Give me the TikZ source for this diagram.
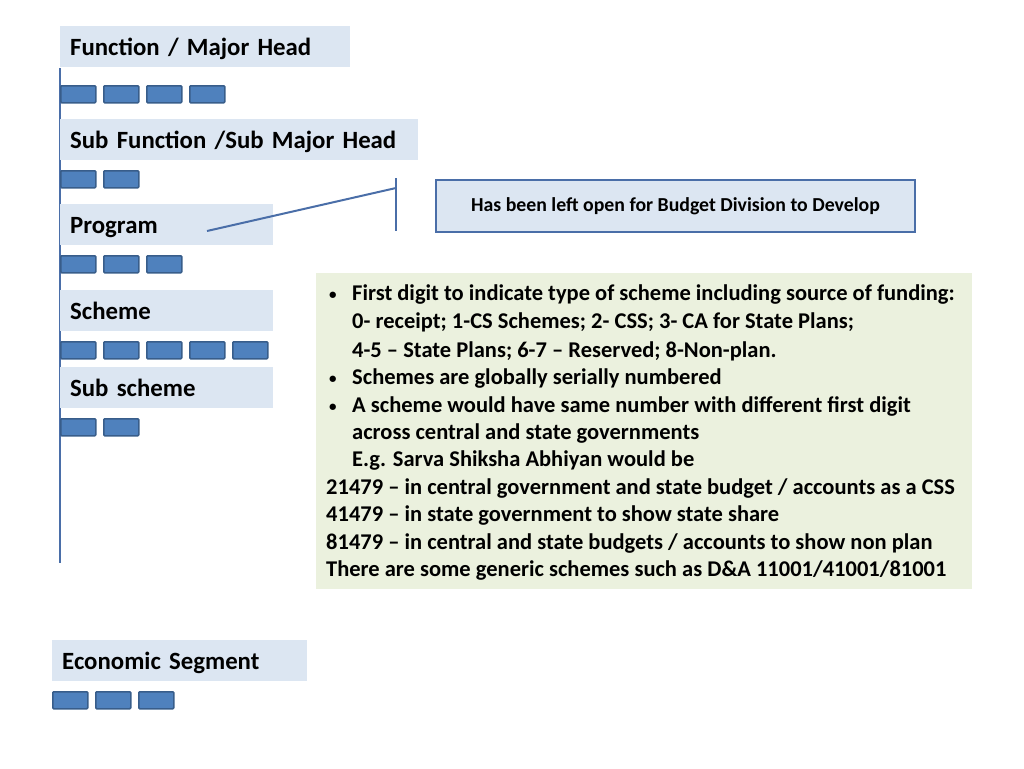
\documentclass[tikz,border=0pt]{standalone}
\usepackage{fontspec}
\setmainfont{Carlito}
\definecolor{hdrfill}{HTML}{DCE6F2}
\definecolor{digitfill}{HTML}{4F81BD}
\definecolor{digitedge}{HTML}{385D8A}
\definecolor{linkblue}{HTML}{4A6EA8}
\definecolor{notefill}{HTML}{EBF1DE}
\newcommand{\bul}{\hspace*{3pt}\makebox[23pt][l]{\raisebox{1pt}{\fontsize{15}{15}\selectfont\textbullet}}}
\newcommand{\ind}{\hspace*{26pt}}
\begin{document}
\begin{tikzpicture}[x=1pt,y=-1pt,
  hdr/.style={fill=hdrfill, anchor=north west, inner xsep=10pt, inner ysep=0pt,
    text height=29pt, text depth=12pt,
    align=left, font=\bfseries\fontsize{24.8}{28}\selectfont},
  digit/.style={fill=digitfill, draw=digitedge, line width=1.5pt, rounded corners=1pt,
    minimum width=35pt, minimum height=17pt, inner sep=0pt, anchor=north west},
  link/.style={draw=linkblue, line width=2pt},
  spine/.style={draw=linkblue, line width=1.2pt}]
\useasboundingbox (0,0) rectangle (1024,768);

% spine
\coordinate (vtop) at (60,68);
\coordinate (vbot) at (60,563);
\draw[spine] (vtop) -- (vbot);

% headers
\node[hdr, text width=270pt] (fmh) at (60,26) {Function / Major Head};
\node[hdr, text width=338pt] (sfh) at (60,119) {Sub Function /Sub Major Head};
\node[hdr, text width=193pt] (prog) at (60,204) {Program};
\node[hdr, text width=193pt] (sch) at (60,290) {Scheme};
\node[hdr, text width=193pt] (ssch) at (60,367) {Sub scheme};
\node[hdr, text width=235pt] (eco) at (52,640) {Economic Segment};

% digit boxes
\foreach \i in {0,...,3} \node[digit] (a\i) at ({60+43*\i},85) {};
\foreach \i in {0,...,1} \node[digit] (b\i) at ({60+43*\i},170) {};
\foreach \i in {0,...,2} \node[digit] (c\i) at ({60+43*\i},255) {};
\foreach \i in {0,...,4} \node[digit] (d\i) at ({60+43*\i},341) {};
\foreach \i in {0,...,1} \node[digit] (e\i) at ({60+43*\i},418) {};
\foreach \i in {0,...,2} \node[digit] (f\i) at ({52+43*\i},691) {};

% connector from Program
\coordinate (pstart) at (207,231);
\coordinate (pjoin) at (396,188);
\coordinate (ptop) at (396,178);
\coordinate (pbot) at (396,231);
\draw[link] (pstart) -- (pjoin);
\draw[link] (ptop) -- (pbot);

% open note
\node[fill=hdrfill, draw=linkblue, line width=2pt, anchor=north west, minimum width=479pt,
  minimum height=52pt, inner sep=0pt, font=\bfseries\fontsize{19.8}{22}\selectfont] (open) at (435,179)
  {Has been left open for Budget Division to Develop};

% scheme note
\node[fill=notefill, anchor=north west, minimum width=656pt, minimum height=316pt, inner sep=0pt] (note) at (316,273) {};
\node[anchor=north west, inner sep=0pt, align=left, font=\bfseries\fontsize{22.5}{27.4}\selectfont] (notetext) at (326,285)
{\bul First digit to indicate type of scheme including source of funding:\\
\ind 0- receipt; 1-CS Schemes; 2- CSS; 3- CA for State Plans;\\[1.5pt]
\ind 4-5 -- State Plans; 6-7 -- Reserved; 8-Non-plan.\\
\bul Schemes are globally serially numbered\\
\bul A scheme would have same number with different first digit\\
\ind across central and state governments\\
\ind E.g. Sarva Shiksha Abhiyan would be\\
21479 -- in central government and state budget / accounts as a CSS\\
41479 -- in state government to show state share\\
81479 -- in central and state budgets / accounts to show non plan\\
There are some generic schemes such as D\&A 11001/41001/81001};
\end{tikzpicture}
\end{document}
